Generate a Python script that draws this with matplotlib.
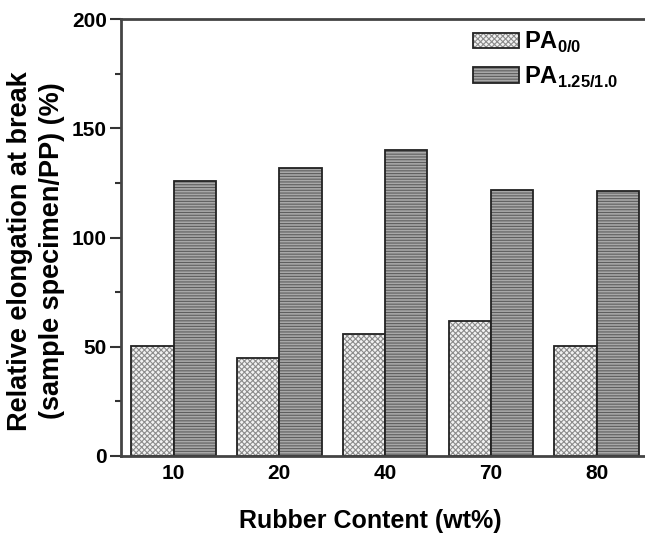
import numpy as np
import matplotlib
matplotlib.use("Agg")
import matplotlib.pyplot as plt

# datos
contenido = ['10', '20', '40', '70', '80']
pa_00 = [50.2, 44.8, 55.8, 61.8, 50.2]
pa_125 = [125.8, 132.0, 140.0, 122.0, 121.5]

plt.rcParams['font.family'] = 'Liberation Sans'
plt.rcParams['font.weight'] = 'bold'
plt.rcParams['mathtext.fontset'] = 'custom'
plt.rcParams['mathtext.bf'] = 'Liberation Sans:bold'
plt.rcParams['mathtext.rm'] = 'Liberation Sans:bold'
plt.rcParams['hatch.linewidth'] = 0.8

fig = plt.figure(figsize=(6.45, 5.49), dpi=100)
ax = fig.add_axes([0.1871, 0.1694, 0.8198, 0.7954])

x = np.arange(len(contenido))
w = 0.4

b1 = ax.bar(x - w / 2, pa_00, width=w, color='#f2f2f2', edgecolor='#222222',
            linewidth=1.3, hatch='xxxxxx', label=r'PA$_{\mathbf{0/0}}$')
b2 = ax.bar(x + w / 2, pa_125, width=w, color='#a8a8a8', edgecolor='#222222',
            linewidth=1.3, hatch='------', label=r'PA$_{\mathbf{1.25/1.0}}$')
for p in b1:
    p._hatch_color = matplotlib.colors.to_rgba('#8c8c8c')
for p in b2:
    p._hatch_color = matplotlib.colors.to_rgba('#5e5e5e')

ax.set_xlim(-0.5, 4.5)
ax.set_ylim(0, 200)
ax.set_xticks(x)
ax.set_xticklabels(contenido)
ax.set_yticks([0, 50, 100, 150, 200])
ax.set_yticks([25, 75, 125, 175], minor=True)

ax.tick_params(axis='x', length=0, labelsize=15, pad=6)
ax.tick_params(axis='y', which='major', length=8, width=1.5, labelsize=15,
               direction='out', color='#333333', pad=2)
ax.tick_params(axis='y', which='minor', length=4, width=1.5,
               direction='out', color='#333333')

for s in ['left', 'bottom', 'top']:
    ax.spines[s].set_linewidth(2)
    ax.spines[s].set_color('#444444')
ax.spines['right'].set_visible(False)

ax.set_xlabel('Rubber Content (wt%)', fontsize=18, fontweight='bold')
ax.xaxis.set_label_coords(0.473, -0.122)
ax.set_ylabel('Relative elongation at break\n(sample specimen/PP) (%)',
              fontsize=19.5, fontweight='bold', linespacing=1.3)
ax.yaxis.set_label_coords(-0.105, 0.47)

ax.legend(loc='upper left', bbox_to_anchor=(0.666, 0.976), frameon=False,
          fontsize=17, handlelength=1.95, handleheight=0.65, labelspacing=0.4,
          handletextpad=0.2, borderpad=0, borderaxespad=0)

fig.savefig('out.png', dpi=100)
